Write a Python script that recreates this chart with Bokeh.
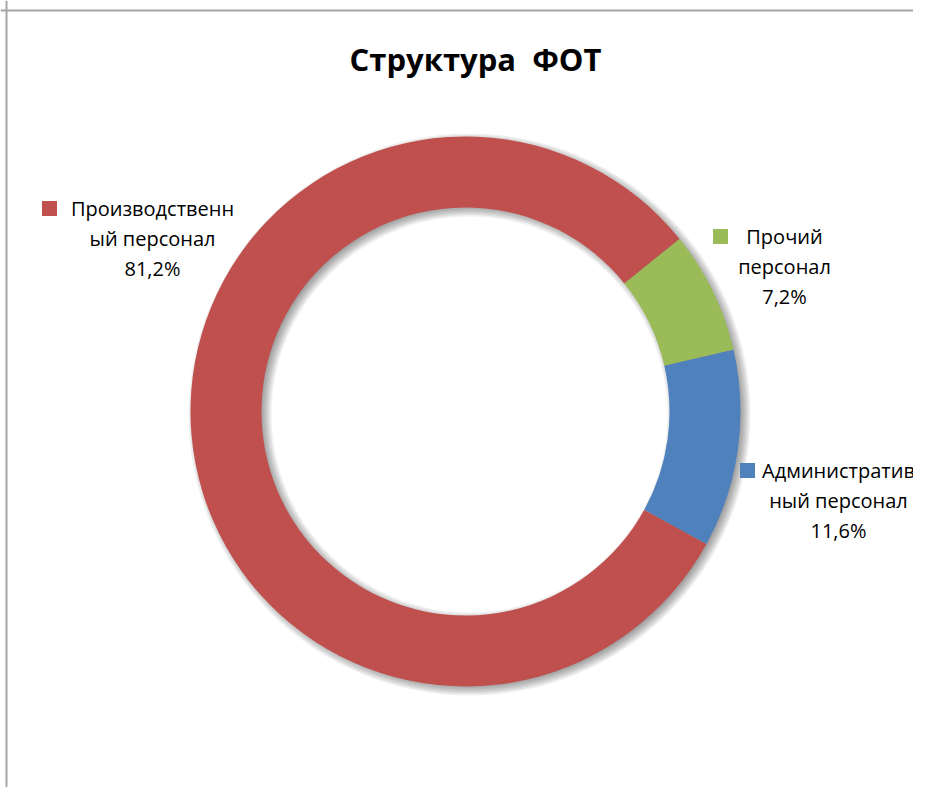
import math
from bokeh.plotting import figure
from bokeh.models import Range1d, Span, ColumnDataSource
from bokeh.core.properties import value
from bokeh.embed import file_html
from bokeh.resources import INLINE

# ---- data ----
chart_title = "Структура\u00a0\u00a0ФОТ"
categories = ["Производственный персонал", "Прочий персонал", "Административный персонал"]
label_lines = [["Производственн", "ый персонал"], ["Прочий", "персонал"], ["Административ", "ный персонал"]]
shares = [81.2, 7.2, 11.6]
colors = ["#C0504D", "#9BBB59", "#4F81BD"]
first_slice_deg = 118.8  # clockwise from 12 o'clock

# ---- layout (picture pixel coordinates) ----
PAGE_H = 803
W, H = 913, 787
cx, cy_page = 465, 411
r_out, r_in = 275, 204
label_pos = [(152, 208), (784, 236), (838, 470)]
marker_pos = [(49, 208), (720, 236), (747, 470)]
line_gap = 30

def Y(page_y):
    return PAGE_H - page_y

p = figure(width=W, height=H, output_backend="svg", toolbar_location=None,
           x_range=Range1d(0, W), y_range=Range1d(PAGE_H - H, PAGE_H),
           x_axis_type=None, y_axis_type=None, min_border=0)
p.outline_line_color = None
p.grid.visible = False
p.background_fill_color = "white"
p.border_fill_color = "white"

# chart area border (left and top visible)
p.add_layout(Span(location=6, dimension="height", line_color="#a6a6a6", line_width=2))
p.add_layout(Span(location=Y(10), dimension="width", line_color="#a6a6a6", line_width=2))

# soft shadow under the ring
cy = Y(cy_page)
for s in [-6, -4.5, -3, -1.5, 0, 1.5, 3, 4.5, 6]:
    p.annular_wedge(x=cx + 4, y=cy - 3, inner_radius=r_in + s, outer_radius=r_out - s,
                    start_angle=0, end_angle=2 * math.pi, fill_color="black",
                    fill_alpha=0.06, line_color=None)

# donut slices
starts, ends = [], []
acc = first_slice_deg
for v in shares:
    a0 = acc
    a1 = acc + v * 3.6
    starts.append(math.pi / 2 - math.radians(a0))
    ends.append(math.pi / 2 - math.radians(a1))
    acc = a1
src = ColumnDataSource(dict(x=[cx] * len(shares), y=[cy] * len(shares),
                            start=starts, end=ends, color=colors, cat=categories))
p.annular_wedge(x="x", y="y", inner_radius=r_in, outer_radius=r_out,
                start_angle="start", end_angle="end", direction="clock",
                fill_color="color", line_color=None, source=src)

# labels
for i, (lines, v) in enumerate(zip(label_lines, shares)):
    lx, ly = label_pos[i]
    texts = lines + [f"{v:.1f}".replace(".", ",") + "%"]
    p.text(x=[lx] * len(texts), y=[Y(ly + k * line_gap) for k in range(len(texts))],
           text=texts, text_align="center", text_baseline="middle",
           text_font=value("Open Sans"), text_font_size="20px", text_color="#000000")
    mx, my = marker_pos[i]
    p.scatter(x=[mx], y=[Y(my)], marker="square", size=15, fill_color=colors[i], line_color=None)

# title
p.text(x=[475], y=[Y(58)], text=[chart_title], text_align="center", text_baseline="middle",
       text_font=value("Open Sans"), text_font_size="31px", text_font_style="bold",
       text_color="#000000")

open("out.html", "w").write(file_html(p, INLINE))
